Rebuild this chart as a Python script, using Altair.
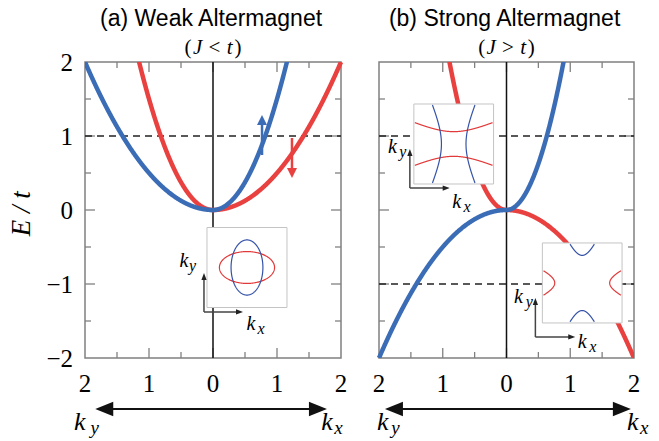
import numpy as np
import pandas as pd
import altair as alt

BLUE, RED = "#3b6db6", "#e8413f"
IBLUE, IRED = "#3552a8", "#e23a3a"
GREY = "#808080"
SERIF = "'Liberation Serif', 'Times New Roman', Times, serif"
SANS = "'Liberation Sans', Arial, Helvetica, sans-serif"

# E/t = c * k^2 ; [c along k_y (left half), c along k_x (right half)]
weak_up, weak_down = [0.5, 1.5], [1.5, 0.5]
strong_up, strong_down = [-0.5, 2.5], [2.5, -0.5]

titles = ["(a) Weak Altermagnet", "(b) Strong Altermagnet"]
relations = ["<", ">"]
x_ticks = [-2, -1, 0, 1, 2]
x_tick_labels = ["2", "1", "0", "1", "2"]
y_ticks = [2, 1, 0, -1, -2]
y_tick_labels = ["2", "1", "0", "−1", "−2"]
major_ticks = [-1, 0, 1]
minor_ticks = [-1.5, -0.5, 0.5, 1.5]
fermi_a = [1]
fermi_b = [1, -1]

YS = alt.Scale(domain=[-2, 2], nice=False, zero=False)
XA = alt.Scale(domain=[-2, 2], range=[0, 256], nice=False, zero=False)
XB = alt.Scale(domain=[-2, 2], range=[294, 549], nice=False, zero=False)

PX, PY = 1 / 64, 1 / 74          # data units per pixel
SX, SY = 19.5 * PX, 19.5 * PY    # inset: data units per k unit
KL = 2.0                         # inset half-width in k units


def xy(xs):
    return dict(x=alt.X("x:Q", scale=xs, axis=None), y=alt.Y("y:Q", scale=YS, axis=None))


def rules(df, xs):
    return alt.Chart(df).mark_rule(strokeCap="butt").encode(
        **xy(xs), x2="x2:Q", y2="y2:Q",
        color=alt.Color("c:N", scale=None),
        strokeWidth=alt.StrokeWidth("w:Q", scale=None))


def heads(df, xs):
    return alt.Chart(df).mark_point(filled=True, opacity=1, strokeWidth=0).encode(
        **xy(xs), shape=alt.Shape("p:N", scale=None),
        size=alt.Size("z:Q", scale=None), color=alt.Color("c:N", scale=None))


def texts(df, xs, **kw):
    return alt.Chart(df).mark_text(**kw).encode(**xy(xs), text="t:N")


def lines(df, xs, **kw):
    return alt.Chart(df).mark_line(**kw).encode(
        **xy(xs), detail="s:N", order="i:Q", color=alt.Color("c:N", scale=None))


k = np.linspace(-2, 2, 801)


def dispersion(c, col, name):
    E = np.where(k < 0, c[0] * k ** 2, c[1] * k ** 2)
    return pd.DataFrame(dict(x=k, y=E, s=name, c=col, i=np.arange(len(k))))


def contour(c, E, cen, col, tag):
    cx, cy = c[1], c[0]
    rows = []
    if cx > 0 and cy > 0 and E > 0:
        t = np.linspace(0, 2 * np.pi, 241)
        kx, ky = np.sqrt(E / cx) * np.cos(t), np.sqrt(E / cy) * np.sin(t)
        rows.append((kx, ky, tag + "e"))
    else:
        p = np.linspace(-KL, KL, 601)
        if E / cx > 0:
            q2 = (E - cy * p ** 2) / cx
            ok = (q2 >= 0) & (q2 <= KL ** 2)
            q = np.sqrt(q2[ok])
            rows += [(q, p[ok], tag + "r"), (-q, p[ok], tag + "l")]
        else:
            q2 = (E - cx * p ** 2) / cy
            ok = (q2 >= 0) & (q2 <= KL ** 2)
            q = np.sqrt(q2[ok])
            rows += [(p[ok], q, tag + "t"), (p[ok], -q, tag + "b")]
    out = []
    for kx, ky, s in rows:
        out.append(pd.DataFrame(dict(x=cen[0] + kx * SX, y=cen[1] + ky * SY, s=s, c=col,
                                     i=np.arange(len(kx)))))
    return pd.concat(out)


def frame_ticks(xs):
    fr = pd.DataFrame(dict(x=[-2], x2=[2], y=[-2], y2=[2]))
    frame = alt.Chart(fr).mark_rect(fillOpacity=0, stroke=GREY, strokeWidth=1.5).encode(
        **xy(xs), x2="x2:Q", y2="y2:Q")
    rows = []
    for v in major_ticks + minor_ticks:
        L = 10 if v in major_ticks else 6
        rows += [dict(x=v, x2=v, y=-2, y2=-2 + L * PY), dict(x=v, x2=v, y=2, y2=2 - L * PY)]
        rows += [dict(x=-2, x2=-2 + L * PX, y=v, y2=v), dict(x=2, x2=2 - L * PX, y=v, y2=v)]
    tk = pd.DataFrame(rows).assign(c=GREY, w=1.3)
    center = pd.DataFrame(dict(x=[0], x2=[0], y=[-2], y2=[2], c=["#111111"], w=[1.5]))
    return [frame, rules(tk, xs), rules(center, xs)]


def dashed(levels, xs):
    df = pd.DataFrame(dict(x=[-2] * len(levels), x2=[2] * len(levels), y=levels, y2=levels))
    return alt.Chart(df).mark_rule(strokeDash=[7, 5], color="#222222", strokeWidth=1.4).encode(
        **xy(xs), x2="x2:Q", y2="y2:Q")


def inset(xs, cen, up, down, E, corner, vtip, htip, lab):
    box = pd.DataFrame(dict(x=[cen[0] - 40 * PX], x2=[cen[0] + 40 * PX],
                            y=[cen[1] - 40 * PY], y2=[cen[1] + 40 * PY]))
    bx = alt.Chart(box).mark_rect(fill="white", stroke="#c4c4c4", strokeWidth=1).encode(
        **xy(xs), x2="x2:Q", y2="y2:Q")
    cv = pd.concat([contour(down, E, cen, IRED, "d"), contour(up, E, cen, IBLUE, "u")])
    ln = lines(cv, xs, strokeWidth=1.2)
    ax = pd.DataFrame(dict(x=[corner[0], corner[0]], x2=[corner[0], htip - 3.5 * PX],
                           y=[corner[1], corner[1]], y2=[vtip - 3.5 * PY, corner[1]],
                           c="#444444", w=1.5))
    hd = pd.DataFrame(dict(x=[corner[0], htip - 3.5 * PX], y=[vtip - 3.5 * PY, corner[1]],
                           p=["M0,-1L0.75,1L-0.75,1Z", "M1,0L-1,0.75L-1,-0.75Z"],
                           z=[49, 49], c="#222222"))
    kk = pd.DataFrame(dict(x=[lab[0][0], lab[2][0]], y=[lab[0][1], lab[2][1]], t=["k", "k"]))
    ss = pd.DataFrame(dict(x=[lab[1][0], lab[3][0]], y=[lab[1][1], lab[3][1]], t=["y", "x"]))
    return [bx, ln, rules(ax, xs), heads(hd, xs),
            texts(kk, xs, font=SERIF, fontStyle="italic", fontSize=20, align="center", baseline="alphabetic"),
            texts(ss, xs, font=SERIF, fontStyle="italic", fontSize=16, align="center", baseline="alphabetic")]


def common_text(xs, title, rel, arrow, klab):
    L = []
    L.append(texts(pd.DataFrame(dict(x=[-0.03], y=[2.486], t=[title])), xs,
                   font=SANS, fontSize=23, align="center", baseline="alphabetic"))
    L.append(texts(pd.DataFrame(dict(x=[-0.39, 0.023, 0.39], y=[2.108] * 3, t=["(", rel, ")"])), xs,
                   font=SERIF, fontSize=21, align="center", baseline="alphabetic"))
    L.append(texts(pd.DataFrame(dict(x=[-0.24, 0.26], y=[2.108] * 2, t=["J", "t"])), xs,
                   font=SERIF, fontStyle="italic", fontSize=21, align="center", baseline="alphabetic"))
    L.append(texts(pd.DataFrame(dict(x=x_ticks, y=[-2.459] * 5, t=x_tick_labels)), xs,
                   font=SERIF, fontSize=25, align="center", baseline="alphabetic"))
    sh = pd.DataFrame(dict(x=[arrow[0] + 9 * PX], x2=[arrow[1] - 9 * PX], y=[-2.689], y2=[-2.689],
                           c="#111111", w=2))
    hd = pd.DataFrame(dict(x=[arrow[0] + 9 * PX, arrow[1] - 9 * PX], y=[-2.689] * 2,
                           p=["M-1,0L1,-0.8L1,0.8Z", "M1,0L-1,-0.8L-1,0.8Z"], z=[324, 324], c="#111111"))
    L += [rules(sh, xs), heads(hd, xs)]
    L.append(texts(pd.DataFrame(dict(x=[klab[0], klab[2]], y=[-2.973] * 2, t=["k", "k"])), xs,
                   font=SERIF, fontStyle="italic", fontSize=26, align="center", baseline="alphabetic"))
    L.append(texts(pd.DataFrame(dict(x=[klab[1], klab[3]], y=[-3.03] * 2, t=["y", "x"])), xs,
                   font=SERIF, fontStyle="italic", fontSize=19, align="center", baseline="alphabetic"))
    return L


# ---------------- panel (a)
A = frame_ticks(XA) + [dashed(fermi_a, XA)]
A += [lines(dispersion(weak_down, RED, "d"), XA, strokeWidth=4.5, clip=True),
      lines(dispersion(weak_up, BLUE, "u"), XA, strokeWidth=4.5, clip=True)]
spin = pd.DataFrame(dict(x=[0.766, 1.234], x2=[0.766, 1.234], y=[0.743, 0.973], y2=[1.19, 0.54],
                         c=[BLUE, RED], w=[2.5, 2.5]))
spin_h = pd.DataFrame(dict(x=[0.766, 1.234], y=[1.216, 0.5],
                           p=["M0,-1L1,1L-1,1Z", "M0,1L1,-1L-1,-1Z"], z=[100, 100], c=[BLUE, RED]))
A += [rules(spin, XA), heads(spin_h, XA)]
A += inset(XA, (0.531, -0.777), weak_up, weak_down, fermi_a[0], (-0.141, -1.378), -0.851, 0.469,
           [(-0.453, -0.770), (-0.32, -0.824), (0.594, -1.622), (0.75, -1.676)])
A += common_text(XA, titles[0], relations[0], (-1.84, 1.78), (-2.08, -1.85, 1.78, 1.96))
A.append(texts(pd.DataFrame(dict(x=[-2.1875] * 5, y=[v - 0.115 for v in y_ticks], t=y_tick_labels)), XA,
               font=SERIF, fontSize=25, align="right", baseline="alphabetic"))
A.append(texts(pd.DataFrame(dict(x=[-2.98], y=[-0.05], t=["E / t"])), XA,
               font=SERIF, fontStyle="italic", fontSize=27, align="center", baseline="middle", angle=270))
panel_a = alt.layer(*A)

# ---------------- panel (b)
B = frame_ticks(XB) + [dashed(fermi_b, XB)]
B += [lines(dispersion(strong_down, RED, "d"), XB, strokeWidth=4.5, clip=True),
      lines(dispersion(strong_up, BLUE, "u"), XB, strokeWidth=4.5, clip=True)]
B += inset(XB, (-0.828, 0.892), strong_up, strong_down, fermi_b[0], (-1.516, 0.297), 0.824, -0.891,
           [(-1.789, 0.770), (-1.625, 0.716), (-0.781, 0.027), (-0.617, -0.027)])
B += inset(XB, (1.1875, -0.986), strong_up, strong_down, fermi_b[1], (0.453, -1.716), -1.189, 1.078,
           [(0.1875, -1.257), (0.359, -1.311), (1.1875, -1.865), (1.352, -1.919)])
B += common_text(XB, titles[1], relations[1], (-1.906, 1.95), (-1.94, -1.74, 1.98, 2.16))
panel_b = alt.layer(*B)

chart = alt.layer(panel_a, panel_b).resolve_scale(x="independent").properties(
    width=549, height=296,
    autosize=alt.AutoSizeParams(type="none"),
    padding={"left": 85, "top": 62, "right": 25, "bottom": 83},
).configure_view(stroke=None)

chart.save("out.html", embed_options={"renderer": "svg", "actions": False})
